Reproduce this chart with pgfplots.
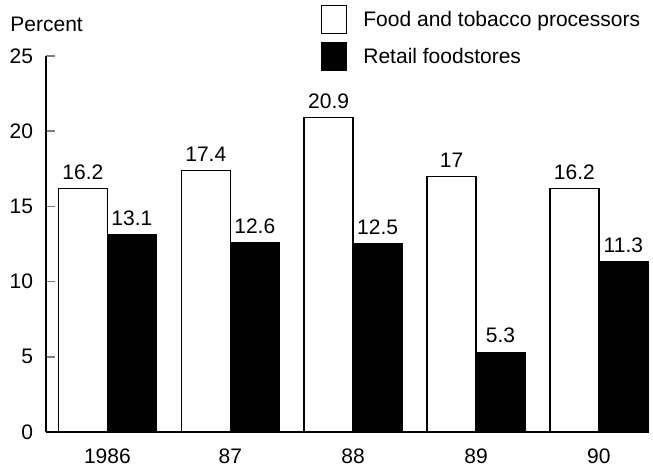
\documentclass[border=0pt]{standalone}
\usepackage{fontspec}
\setmainfont{Liberation Sans}
\usepackage{pgfplots}
\pgfplotsset{compat=1.18}

\pgfplotstableread{
x proc retail
0 16.2 13.1
1 17.4 12.6
2 20.9 12.5
3 17   5.3
4 16.2 11.3
}\shares

\begin{document}
\begin{tikzpicture}[font=\fontsize{10.5pt}{12.6pt}\selectfont]
\begin{axis}[
  name=ax,
  scale only axis,
  width=301pt, height=188pt,
  xmin=-0.5, xmax=4.4,
  ymin=0, ymax=25,
  axis x line=bottom, axis y line=left,
  axis line style={-, line width=0.9pt},
  ytick={0,5,...,25},
  xtick=data,
  xticklabels={1986,87,88,89,90},
  tick align=inside,
  major tick length=4.5pt,
  major x tick style={draw=none},
  y tick style={line width=0.8pt},
  /pgf/number format/assume math mode=true,
  yticklabel style={xshift=-3pt},
  xticklabel style={inner sep=0pt, yshift=-3.8pt},
  ylabel={Percent},
  ylabel style={rotate=-90, at={(axis description cs:0,1)}, anchor=base west,
    inner sep=0pt, xshift=-18pt, yshift=12pt},
  ybar=0pt,
  bar width=24.5pt,
  nodes near coords,
  nodes near coords style={inner sep=0pt, yshift=4.2pt, font=\fontsize{10.5pt}{12.6pt}\selectfont},
  legend image code/.code={\draw[#1, line width=0.7pt] (0pt,-6.7pt) rectangle (12.5pt,7.3pt);},
  legend style={at={(rel axis cs:0.4568,1.1356)}, anchor=north west, draw=none,
    inner sep=0pt, outer sep=0pt, row sep=3.7pt, column sep=8pt,
    nodes={inner sep=0pt}},
  legend cell align=left,
  clip=false,
]
\addplot[draw=black, fill=white, line width=0.7pt] table[x=x, y=proc] {\shares};
\addlegendentry{Food and tobacco processors}
\addplot[draw=black, fill=black, line width=0.7pt] table[x=x, y=retail] {\shares};
\addlegendentry{Retail foodstores}
\end{axis}
\pgfresetboundingbox
\path ([shift={(-23pt,-18.5pt)}]ax.south west) rectangle ([shift={(2.5pt,28pt)}]ax.north east);
\end{tikzpicture}
\end{document}
